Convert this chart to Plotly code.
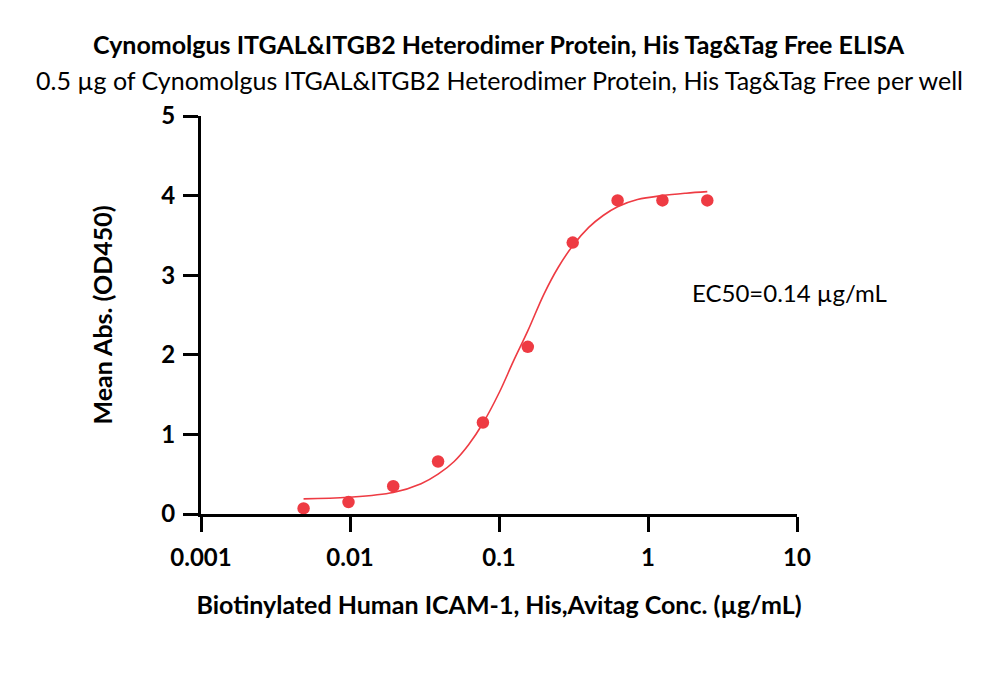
import plotly.graph_objects as go

# measured points (ELISA)
conc = [0.00488, 0.00977, 0.0195, 0.039, 0.078, 0.156, 0.3125, 0.625, 1.25, 2.5]
od450 = [0.07, 0.15, 0.35, 0.66, 1.15, 2.10, 3.41, 3.94, 3.94, 3.94]

# fitted curve
fit_x = [0.00488, 0.00977, 0.0195, 0.03, 0.039, 0.05, 0.0625, 0.078, 0.1, 0.125,
         0.156, 0.2, 0.25, 0.3125, 0.4, 0.5, 0.625, 0.85, 1.25, 1.8, 2.5]
fit_y = [0.19, 0.21, 0.27, 0.38, 0.50, 0.66, 0.87, 1.14, 1.52, 1.92,
         2.30, 2.76, 3.10, 3.37, 3.60, 3.75, 3.86, 3.95, 4.00, 4.03, 4.05]

x_ticks = [0.001, 0.01, 0.1, 1, 10]
x_tick_text = ["0.001", "0.01", "0.1", "1", "10"]
y_ticks = [0, 1, 2, 3, 4, 5]

red = "#EE3B43"
font = "Lato"

fig = go.Figure()

fig.add_trace(go.Scatter(x=fit_x, y=fit_y, mode="lines", line_shape="spline",
                         line=dict(color=red, width=1.6), showlegend=False,
                         cliponaxis=False))
fig.add_trace(go.Scatter(x=conc, y=od450, mode="markers",
                         marker=dict(color=red, size=12.5), showlegend=False,
                         cliponaxis=False))

fig.add_annotation(text="<b>Cynomolgus ITGAL&ITGB2 Heterodimer Protein, His Tag&Tag Free ELISA</b>",
                   xref="paper", yref="paper", x=0.5, y=1, yshift=72,
                   xanchor="center", yanchor="middle", showarrow=False,
                   font=dict(size=25, color="black", family=font))
fig.add_annotation(text="0.5 µg of Cynomolgus ITGAL&ITGB2 Heterodimer Protein, His Tag&Tag Free per well",
                   xref="paper", yref="paper", x=0.5, y=1, yshift=36,
                   xanchor="center", yanchor="middle", showarrow=False,
                   font=dict(size=25, color="black", family=font))
fig.add_annotation(text="EC50=0.14 µg/mL", xref="paper", yref="y",
                   x=0.82, y=2.78, xanchor="left", yanchor="middle", showarrow=False,
                   font=dict(size=24, color="black", family=font))

fig.update_layout(
    width=1000, height=684,
    margin=dict(l=193, r=211, t=108, b=178),
    plot_bgcolor="white", paper_bgcolor="white",
    font=dict(family=font, color="black"),
    xaxis=dict(type="log", range=[-3, 1], tickvals=x_ticks, ticktext=x_tick_text,
               showgrid=False, zeroline=False, showline=True, linecolor="black",
               linewidth=3, ticks="outside", ticklen=15, tickwidth=3,
               tickcolor="black", ticklabelstandoff=5,
               tickfont=dict(size=24, family=font, weight="bold"),
               title=dict(text="<b>Biotinylated Human ICAM-1, His,Avitag Conc. (µg/mL)</b>",
                          font=dict(size=25, family=font), standoff=27)),
    yaxis=dict(range=[0, 5], tickvals=y_ticks, showgrid=False, zeroline=False,
               showline=True, linecolor="black", linewidth=3, ticks="outside",
               ticklen=15, tickwidth=3, tickcolor="black", ticklabelstandoff=3,
               tickfont=dict(size=24, family=font, weight="bold"),
               title=dict(text="<b>Mean Abs. (OD450)</b>",
                          font=dict(size=25, family=font), standoff=42)),
)

fig.write_html("out.html")
